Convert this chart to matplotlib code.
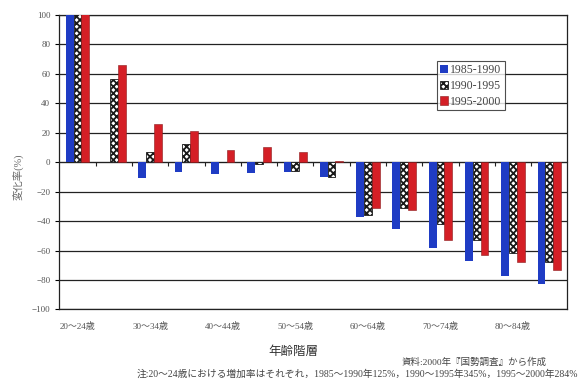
import matplotlib
matplotlib.use('Agg')
import matplotlib.pyplot as plt
import numpy as np

# 年齢階層別の人口変化率 (%)
ages = ['20～24歳', '25～29歳', '30～34歳', '35～39歳', '40～44歳', '45～49歳', '50～54歳',
        '55～59歳', '60～64歳', '65～69歳', '70～74歳', '75～79歳', '80～84歳', '85歳以上']
series = ['1985-1990', '1990-1995', '1995-2000']
v_85_90 = [125, 0, -10.9, -6.8, -7.9, -7.5, -6.8, -9.8, -37.3, -45.7, -58.2, -67.4, -77.2, -82.9]
v_90_95 = [345, 56.3, 7.2, 12.4, 0, -1.5, -6.3, -9.8, -36, -30.8, -42.3, -52.8, -61.9, -67.6]
v_95_00 = [284, 66, 26, 21.3, 8.4, 10.2, 7.2, 1, -30.8, -32.7, -52.8, -62.8, -67.6, -73.3]

serif_jp = ['Liberation Serif', 'Noto Sans CJK JP']
plt.rcParams['font.family'] = serif_jp
plt.rcParams['hatch.linewidth'] = 1.3

fig = plt.figure(figsize=(5.82, 3.83), dpi=100)
ax = fig.add_axes([0.102, 0.192, 0.873, 0.769])

x = np.arange(len(ages))
w = 0.215
ax.bar(x - w, v_85_90, w, color='#1f3cc4', label=series[0], zorder=3)
ax.bar(x, v_90_95, w, facecolor='white', edgecolor='#1a1a1a', hatch='xxxxx',
       linewidth=0.6, label=series[1], zorder=3)
ax.bar(x + w, v_95_00, w, color='#d41f26', edgecolor='#8a1a1a', linewidth=0.4,
       label=series[2], zorder=3)

ax.set_xlim(-0.5, len(ages) - 0.5)
ax.set_ylim(-100, 100)
ax.set_yticks(np.arange(-100, 101, 20))
ax.yaxis.grid(True, color='#222222', linewidth=0.9)
ax.set_axisbelow(True)
ax.tick_params(axis='y', labelsize=6.5, labelcolor='#555555', length=3, width=0.8)

# labels on every other age group, no tick marks on the frame
ax.set_xticks(x[::2])
ax.set_xticklabels(ages[::2])
ax.tick_params(axis='x', labelsize=6.5, labelcolor='#555555', length=0, pad=9)

for s in ax.spines.values():
    s.set_color('#222222')
    s.set_linewidth(0.9)

# small separators on the zero line between groups
sec = ax.secondary_xaxis(0.5)
sec.set_xticks(x[:-1] + 0.5)
sec.set_xticklabels([])
sec.tick_params(direction='in', length=3, width=0.8, color='#222222')
sec.spines['bottom'].set_linewidth(0.9)
sec.spines['bottom'].set_color('#222222')

leg = ax.legend(loc='upper left', bbox_to_anchor=(0.743, 0.842), fontsize=8.5,
                frameon=True, fancybox=False, edgecolor='#222222',
                handlelength=0.7, handleheight=0.7, handletextpad=0.2,
                borderpad=0.25, labelspacing=0.3, borderaxespad=0)
leg.get_frame().set_linewidth(0.8)
for t in leg.get_texts():
    t.set_color('#444444')

fig.text(18 / 582, 1 - 177 / 383, '変化率(%)', rotation=90, fontsize=7.5,
         color='#666666', ha='center', va='center')
fig.text(293 / 582, 1 - 352 / 383, '年齢階層', fontsize=9, color='#333333',
         ha='center', va='center')
fig.text(547 / 582, 1 - 362 / 383, '資料:2000年『国勢調査』から作成', fontsize=6.8,
         color='#444444', ha='right', va='center')
fig.text(578 / 582, 1 - 374 / 383,
         '注:20～24歳における増加率はそれぞれ，1985～1990年125%，1990～1995年345%，1995～2000年284%',
         fontsize=7, color='#444444', ha='right', va='center')

fig.savefig('out.png', dpi=100)
